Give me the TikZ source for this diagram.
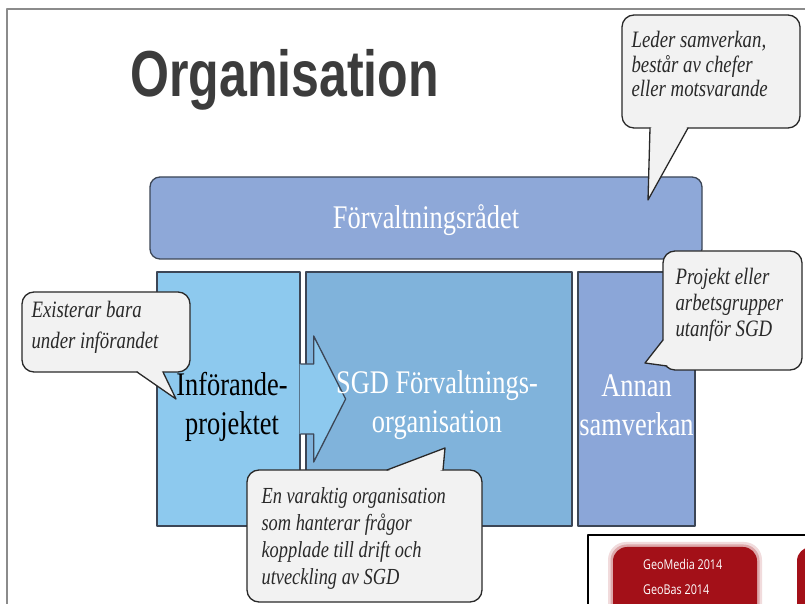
\documentclass[tikz,border=0pt]{standalone}
\usepackage{fontspec}
\setmainfont{Liberation Serif}[FakeStretch=0.8]
\newfontfamily\headfont{Liberation Sans}[FakeStretch=0.77]
\newfontfamily\badgefont{Open Sans}[FakeStretch=0.8]
\usepackage{tikz}
\usetikzlibrary{positioning,calc}
\definecolor{rrbbdd}{rgb}{0.557,0.659,0.847}
\definecolor{ssccee}{rgb}{0.553,0.788,0.933}
\definecolor{ttbbdd}{rgb}{0.502,0.702,0.859}
\definecolor{qqaadd}{rgb}{0.545,0.651,0.847}
\definecolor{ddddee}{rgb}{0.235,0.275,0.337}
\definecolor{eeeeee}{rgb}{0.949,0.949,0.949}
\definecolor{zzzzzz}{rgb}{0.16,0.16,0.16}
\definecolor{ggcccc}{rgb}{0.545,0.545,0.545}
\definecolor{ttssss}{rgb}{0.235,0.235,0.235}
\definecolor{aaqqqq}{rgb}{0.639,0.063,0.094}

\begin{document}
\begin{tikzpicture}[line cap=round,line join=round,x=1pt,y=1pt,
  orgbox/.style={draw=ddddee,line width=1.3pt,inner sep=0pt,minimum height=254pt},
  boxtext/.style={font=\fontsize{33}{39}\selectfont,align=center,inner sep=0pt},
  callbox/.style={draw=zzzzzz,fill=eeeeee,line width=1.3pt,rounded corners=12pt,inner sep=0pt},
  note/.style={font=\fontsize{23.5}{26.5}\selectfont\itshape,text=zzzzzz,align=left,inner sep=0pt},
  badge/.style={font=\badgefont\fontsize{13.5}{13.5}\selectfont,text=white,inner sep=0pt,anchor=base west}]
\useasboundingbox (0,0) rectangle (805,604);
\clip (0,0) rectangle (805,604);
\fill[white] (0,0) rectangle (805,604);
\draw[ggcccc,line width=2pt] (7,-5) -- (7,595) -- (815,595);
\node[anchor=base west,font=\headfont\bfseries\fontsize{65}{65}\selectfont,text=ttssss,inner sep=0pt] (title) at (130,507) {Organisation};
% boxes
\node[orgbox,fill=rrbbdd,rounded corners=10pt,minimum width=552pt,minimum height=82pt] (rad) at (426,386) {};
\node[orgbox,fill=ssccee,minimum width=143pt] (infor) at (228.5,205) {};
\node[orgbox,fill=ttbbdd,minimum width=266pt] (sgd) at (439,205) {};
\node[orgbox,fill=qqaadd,minimum width=117pt] (annan) at (636.5,205) {};
% arrow
\fill[ssccee] ($(infor.east)+(-1,35)$) -- ($(infor.east)+(13,35)$) -- ($(infor.east)+(13,63)$) -- ($(infor.east)+(45,0)$) -- ($(infor.east)+(13,-63)$) -- ($(infor.east)+(13,-35)$) -- ($(infor.east)+(-1,-35)$) -- cycle;
\draw[ddddee,line width=1.3pt] ($(infor.east)+(0,35)$) -- ($(infor.east)+(13,35)$) -- ($(infor.east)+(13,63)$) -- ($(infor.east)+(45,0)$) -- ($(infor.east)+(13,-63)$) -- ($(infor.east)+(13,-35)$) -- ($(infor.east)+(0,-35)$);
% labels
\node[boxtext,text=white] (radtxt) at ([yshift=-2pt]rad.center) {Förvaltningsrådet};
\node[boxtext,text=black] (infortxt) at (232,197) {Införande-\\projektet};
\node[boxtext,text=white] (sgdtxt) at (437,199) {SGD Förvaltnings-\\organisation};
\node[boxtext,text=white] (annantxt) at (636.5,199) {Annan\\samverkan};
% callouts
\node[callbox,minimum width=178pt,minimum height=113pt] (lead) at (711,532.5) {};
\coordinate (leadtip) at (648,404);
\fill[eeeeee] (650,476) -- (leadtip) -- (688,476) -- (669,484) -- cycle;
\draw[zzzzzz,line width=1.3pt] (650,476) -- (leadtip) -- (688,476);
\node[note,font=\fontsize{23.5}{24.5}\selectfont\itshape,below right=17pt and 10pt of lead.north west] (leadtxt) {Leder samverkan,\\består av chefer\\eller motsvarande};

\node[callbox,minimum width=139pt,minimum height=119pt] (proj) at (732.5,293.5) {};
\coordinate (projtip) at (645,241);
\fill[eeeeee] (663,264) -- (projtip) -- (667,238) -- (678,250) -- cycle;
\draw[zzzzzz,line width=1.3pt] (663,264) -- (projtip) -- (667,238);
\node[note,font=\fontsize{23.5}{26}\selectfont\itshape,below right=18pt and 13pt of proj.north west] (projtxt) {Projekt eller\\arbetsgrupper\\utanför SGD};

\node[callbox,minimum width=168pt,minimum height=80pt] (exist) at (106,272) {};
\coordinate (existtip) at (176,205);
\fill[eeeeee] (137,232) -- (existtip) -- (163,232) -- (150,239) -- cycle;
\draw[zzzzzz,line width=1.3pt] (137,232) -- (existtip) -- (163,232);
\node[note,font=\fontsize{23.5}{31}\selectfont\itshape,below right=10pt and 10pt of exist.north west] (existtxt) {Existerar bara\\under införandet};

\node[callbox,minimum width=235pt,minimum height=132pt] (dur) at (364.5,68) {};
\coordinate (durtip) at (445,156);
\fill[eeeeee] (387,134) -- (durtip) -- (443,134) -- (415,127) -- cycle;
\draw[zzzzzz,line width=1.3pt] (387,134) -- (durtip) -- (443,134);
\node[note,font=\fontsize{23}{27}\selectfont\itshape,below right=18pt and 15pt of dur.north west] (durtxt) {En varaktig organisation\\som hanterar frågor\\kopplade till drift och\\utveckling av SGD};
% logo
\draw[black,line width=1.5pt] (815,69) -- (588,69) -- (588,-5);
\fill[aaqqqq,opacity=0.15,rounded corners=18pt] (608,-20) rectangle (762,62);
\fill[aaqqqq,opacity=0.25,rounded corners=16pt] (610.5,-20) rectangle (759.5,59.5);
\fill[aaqqqq,rounded corners=14pt] (613,-20) rectangle (757,57);
\fill[aaqqqq,rounded corners=14pt] (797,-20) rectangle (840,57);
\node[badge] (geomedia) at (643,34) {GeoMedia 2014};
\node[badge] (geobas) at (643,9) {GeoBas 2014};
\end{tikzpicture}
\end{document}
